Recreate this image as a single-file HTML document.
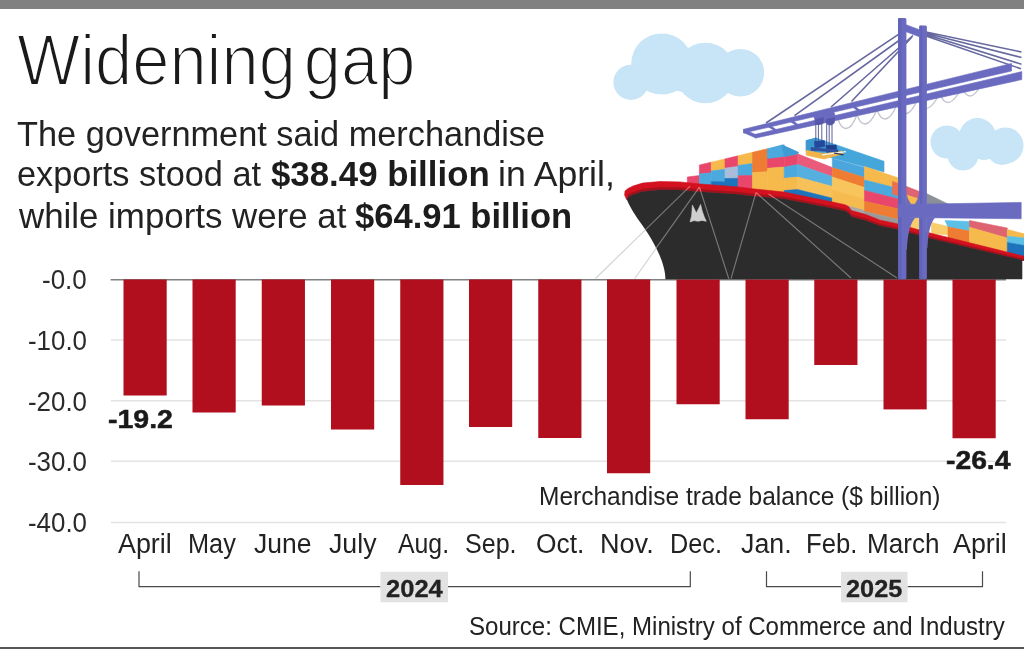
<!DOCTYPE html>
<html lang="en">
<head>
<meta charset="utf-8">
<title>Widening gap</title>
<style>
html,body{margin:0;padding:0;background:#fff;}
body{width:1024px;height:650px;position:relative;overflow:hidden;font-family:"Liberation Sans",sans-serif;color:#222;}
#art{position:absolute;left:0;top:0;width:1024px;height:650px;}
.t{position:absolute;white-space:nowrap;line-height:1;transform-origin:0 50%;margin:0;padding:0;font-weight:400;}
.bar-top{position:absolute;left:0;top:0;width:1024px;height:8.5px;background:#808080;}
.bar-bot{position:absolute;left:0;top:647px;width:1024px;height:1.7px;background:#555;}
</style>
</head>
<body>
<div class="bar-top"></div>
<svg id="art" width="1024" height="650" viewBox="0 0 1024 650">
<g id="chart">
<line x1="111" y1="340" x2="1006" y2="340" stroke="#e3e3e3" stroke-width="1.4"/>
<line x1="111" y1="400.7" x2="1006" y2="400.7" stroke="#e3e3e3" stroke-width="1.4"/>
<line x1="111" y1="461.3" x2="1006" y2="461.3" stroke="#e3e3e3" stroke-width="1.4"/>
<line x1="111" y1="522.5" x2="1006" y2="522.5" stroke="#e3e3e3" stroke-width="1.4"/>
<line x1="110.6" y1="279.7" x2="1006" y2="279.7" stroke="#808080" stroke-width="1.6"/>
<rect x="123.5" y="279.5" width="43.2" height="116" fill="#b20f1e"/>
<rect x="192.5" y="279.5" width="43.2" height="133" fill="#b20f1e"/>
<rect x="261.75" y="279.5" width="43.2" height="126" fill="#b20f1e"/>
<rect x="331" y="279.5" width="43.2" height="150" fill="#b20f1e"/>
<rect x="400.25" y="279.5" width="43.2" height="205.5" fill="#b20f1e"/>
<rect x="469" y="279.5" width="43.2" height="147.5" fill="#b20f1e"/>
<rect x="538.25" y="279.5" width="43.2" height="158.5" fill="#b20f1e"/>
<rect x="607" y="279.5" width="43.2" height="193.75" fill="#b20f1e"/>
<rect x="676.5" y="279.5" width="43.2" height="124.75" fill="#b20f1e"/>
<rect x="745.5" y="279.5" width="43.2" height="139.75" fill="#b20f1e"/>
<rect x="814.25" y="279.5" width="43.2" height="85.5" fill="#b20f1e"/>
<rect x="883.5" y="279.5" width="43.2" height="129.9" fill="#b20f1e"/>
<rect x="952.5" y="279.5" width="43.2" height="158.75" fill="#b20f1e"/>
<path d="M139 571.3V586.7H380.5M448 586.7H690.3V571.3M766.5 571.3V586.7H841M907.5 586.7H982.5V571.3" fill="none" stroke="#4a4a4a" stroke-width="1.2"/>
<rect x="380.5" y="571.8" width="67.5" height="30.5" fill="#e2e2e2"/>
<rect x="841" y="571.8" width="66.5" height="30.5" fill="#e2e2e2"/>
</g>
<g id="illustration">
<g fill="#c7e5f7">
<circle cx="631" cy="82.3" r="17.6"/>
<circle cx="661.8" cy="64" r="30.6"/>
<circle cx="705.4" cy="73" r="30.2"/>
<circle cx="740.4" cy="72.7" r="23.8"/>
<circle cx="684" cy="70" r="22"/>
<circle cx="947" cy="142" r="16.5"/>
<circle cx="977.5" cy="136.5" r="18.5"/>
<circle cx="1005.5" cy="145.5" r="18"/>
<circle cx="963" cy="155" r="15.5"/>
<circle cx="1002" cy="150" r="15"/>
<circle cx="984" cy="146" r="14"/>
</g>
<polygon points="687.3,177 699.6,175.5 699.6,184.5 687.3,183.5" fill="#e8476b" stroke="#e8476b" stroke-width=".6" stroke-linejoin="round"/>
<polygon points="699.4,165 711.25,162.17 711.25,172.81 699.4,173.95" fill="#e8476b" stroke="#e8476b" stroke-width=".6" stroke-linejoin="round"/>
<polygon points="699.4,173.95 711.25,172.81 711.25,185.82 699.4,184.9" fill="#4ba9dd" stroke="#4ba9dd" stroke-width=".6" stroke-linejoin="round"/>
<polygon points="711.25,162.17 725,158.89 725,169.25 711.25,170.92" fill="#f6b94b" stroke="#f6b94b" stroke-width=".6" stroke-linejoin="round"/>
<polygon points="711.25,170.92 725,169.25 725,181.85 711.25,181.56" fill="#4ba9dd" stroke="#4ba9dd" stroke-width=".6" stroke-linejoin="round"/>
<polygon points="711.25,181.56 725,181.85 725,186.89 711.25,185.82" fill="#1d74bd" stroke="#1d74bd" stroke-width=".6" stroke-linejoin="round"/>
<polygon points="725,158.89 738.1,155.77 738.1,166.38 725,168.13" fill="#e8476b" stroke="#e8476b" stroke-width=".6" stroke-linejoin="round"/>
<polygon points="725,168.13 738.1,166.38 738.1,178.27 725,178.49" fill="#a9bddb" stroke="#a9bddb" stroke-width=".6" stroke-linejoin="round"/>
<polygon points="725,178.49 738.1,178.27 738.1,187.91 725,186.89" fill="#1d74bd" stroke="#1d74bd" stroke-width=".6" stroke-linejoin="round"/>
<polygon points="738.1,155.77 752.5,152.34 752.5,163.56 738.1,165.41" fill="#f6b94b" stroke="#f6b94b" stroke-width=".6" stroke-linejoin="round"/>
<polygon points="738.1,165.41 752.5,163.56 752.5,175.53 738.1,175.7" fill="#4ba9dd" stroke="#4ba9dd" stroke-width=".6" stroke-linejoin="round"/>
<polygon points="738.1,175.7 752.5,175.53 752.5,189.75 738.1,187.91" fill="#e8476b" stroke="#e8476b" stroke-width=".6" stroke-linejoin="round"/>
<polygon points="752.5,152.34 767.5,148.76 767.5,171.74 752.5,172.54" fill="#ee7d33" stroke="#ee7d33" stroke-width=".6" stroke-linejoin="round"/>
<polygon points="752.5,172.54 767.5,171.74 767.5,191.31 752.5,189.75" fill="#f6b94b" stroke="#f6b94b" stroke-width=".6" stroke-linejoin="round"/>
<polygon points="767.5,148.76 784.2,144.78 784.2,154.92 767.5,157.69" fill="#4ba9dd" stroke="#4ba9dd" stroke-width=".6" stroke-linejoin="round"/>
<polygon points="767.5,157.69 784.2,154.92 784.2,167 767.5,168.33" fill="#e8476b" stroke="#e8476b" stroke-width=".6" stroke-linejoin="round"/>
<polygon points="767.5,168.33 784.2,167 784.2,193.09 767.5,191.31" fill="#f6b94b" stroke="#f6b94b" stroke-width=".6" stroke-linejoin="round"/>
<polygon points="784.2,156.2 797.5,153.75 797.5,164.6 784.2,167.2" fill="#e8476b" stroke="#e8476b" stroke-width=".6" stroke-linejoin="round"/>
<polygon points="784.2,167.2 797.5,164.6 797.5,177 784.2,178.3" fill="#4ba9dd" stroke="#4ba9dd" stroke-width=".6" stroke-linejoin="round"/>
<polygon points="784.2,178.3 797.5,177 797.5,189.6 784.2,190.5" fill="#f6b94b" stroke="#f6b94b" stroke-width=".6" stroke-linejoin="round"/>
<polygon points="784.2,190.5 797.5,189.6 797.5,196 784.2,194" fill="#1d74bd" stroke="#1d74bd" stroke-width=".6" stroke-linejoin="round"/>
<polygon points="767.5,149.4 782,145 798.5,152.4 797.5,153.9 784.2,156.4 767.5,158.4" fill="#4ba9dd" stroke="#4ba9dd" stroke-width=".6" stroke-linejoin="round"/>
<polygon points="782,145 798.5,152.4 797.5,153.9 784.2,156.4" fill="#3f9bd4" stroke="#3f9bd4" stroke-width=".6" stroke-linejoin="round"/>
<polygon points="797.5,153.75 832.3,167.5 832.3,176.6 797.5,164.5" fill="#ea5a7a" stroke="#ea5a7a" stroke-width=".6" stroke-linejoin="round"/>
<polygon points="797.5,164.5 832.3,176.6 832.3,186.4 797.5,177" fill="#55b0e0" stroke="#55b0e0" stroke-width=".6" stroke-linejoin="round"/>
<polygon points="797.5,177 832.3,186.4 832.3,198.2 797.5,189.5" fill="#f7c15a" stroke="#f7c15a" stroke-width=".6" stroke-linejoin="round"/>
<polygon points="797.5,189.5 832.3,198.2 832.3,203.5 797.5,196" fill="#1d74bd" stroke="#1d74bd" stroke-width=".6" stroke-linejoin="round"/>
<polygon points="806.2,140.6 816.2,138 884,161.3 884,172 832,158 816,153 806.2,151" fill="#45a6da" stroke="#45a6da" stroke-width=".6" stroke-linejoin="round"/>
<polygon points="806.2,140.6 816.2,138 816.2,153 806.2,151" fill="#3b97cf" stroke="#3b97cf" stroke-width=".6" stroke-linejoin="round"/>
<polygon points="806.2,150.6 818,153.6 818,157.5 806.2,154.5" fill="#f6b94b" stroke="#f6b94b" stroke-width=".6" stroke-linejoin="round"/>
<polygon points="832.3,158.5 864.5,167.6 864.5,177.6 832.3,167.5" fill="#4aa6dc" stroke="#4aa6dc" stroke-width=".6" stroke-linejoin="round"/>
<polygon points="832.3,167.5 864.5,177.6 864.5,187.6 832.3,177" fill="#ee7d33" stroke="#ee7d33" stroke-width=".6" stroke-linejoin="round"/>
<polygon points="832.3,177 864.5,187.6 864.5,199 832.3,190" fill="#f8c45c" stroke="#f8c45c" stroke-width=".6" stroke-linejoin="round"/>
<polygon points="832.3,190 864.5,199 864.5,211 832.3,203" fill="#f6bb4e" stroke="#f6bb4e" stroke-width=".6" stroke-linejoin="round"/>
<polygon points="846,205.5 864.5,210.5 864.5,215 850,211" fill="#a8a8a8" stroke="#a8a8a8" stroke-width=".6" stroke-linejoin="round"/>
<polygon points="864.5,166.5 898.5,178 898.5,188.5 864.5,180" fill="#f6b94b" stroke="#f6b94b" stroke-width=".6" stroke-linejoin="round"/>
<polygon points="864.5,180 898.5,188.5 898.5,199 864.5,190.5" fill="#4ba9dd" stroke="#4ba9dd" stroke-width=".6" stroke-linejoin="round"/>
<polygon points="864.5,190.5 898.5,199 898.5,209 864.5,201.3" fill="#e8476b" stroke="#e8476b" stroke-width=".6" stroke-linejoin="round"/>
<polygon points="864.5,201.3 898.5,209 898.5,219.5 864.5,211.5" fill="#ee7d33" stroke="#ee7d33" stroke-width=".6" stroke-linejoin="round"/>
<polygon points="864.5,211.5 898.5,219.5 898.5,225 864.5,215" fill="#9a9a9a" stroke="#9a9a9a" stroke-width=".6" stroke-linejoin="round"/>
<polygon points="892.5,181.5 898.5,183.5 898.5,196 892.5,194" fill="#ea6f52" stroke="#ea6f52" stroke-width=".6" stroke-linejoin="round"/>
<polygon points="906,186.3 919.5,191.5 919.5,199 906,195" fill="#dd6470" stroke="#dd6470" stroke-width=".6" stroke-linejoin="round"/>
<polygon points="906,195 919.5,199 919.5,208 906,206" fill="#f6b94b" stroke="#f6b94b" stroke-width=".6" stroke-linejoin="round"/>
<polygon points="906,217 919.5,218 919.5,231 906,228.5" fill="#f8cd6c" stroke="#f8cd6c" stroke-width=".6" stroke-linejoin="round"/>
<polygon points="926.5,193.5 948,204 926.5,205" fill="#8b8f98" stroke="#8b8f98" stroke-width=".6" stroke-linejoin="round"/>
<polygon points="931.5,222.5 948,226.5 948,235 931.5,233.5" fill="#f8cd6c" stroke="#f8cd6c" stroke-width=".6" stroke-linejoin="round"/>
<polygon points="945,220.5 969.5,221.5 969.5,231 948,227" fill="#5cc0e6" stroke="#5cc0e6" stroke-width=".6" stroke-linejoin="round"/>
<polygon points="948,227 969.5,231 969.5,243 948,238" fill="#ee7d33" stroke="#ee7d33" stroke-width=".6" stroke-linejoin="round"/>
<polygon points="969.5,220.5 1007.3,228 1007.3,238 969.5,227.3" fill="#dd6470" stroke="#dd6470" stroke-width=".6" stroke-linejoin="round"/>
<polygon points="969.5,227.3 1007.3,238 1007.3,252 969.5,243" fill="#f6b94b" stroke="#f6b94b" stroke-width=".6" stroke-linejoin="round"/>
<polygon points="1007.3,229.4 1024,233.8 1024,238 1007.3,236.2" fill="#f6b94b" stroke="#f6b94b" stroke-width=".6" stroke-linejoin="round"/>
<polygon points="1007.3,236.2 1024,238 1024,245.5 1007.3,242.5" fill="#5cc0e6" stroke="#5cc0e6" stroke-width=".6" stroke-linejoin="round"/>
<polygon points="1007.3,242.5 1024,245.5 1024,257 1007.3,253" fill="#1d74bd" stroke="#1d74bd" stroke-width=".6" stroke-linejoin="round"/>
<polygon points="625,191 628,188.5 633,186 642.5,183.1 660,181.5 680,181.9 697.5,183.75 738,186.9 752.5,188.75 783.75,192 808,197 832.5,202 845,204.8 848.5,206.6 851.5,210.6 865,214.3 880,220 898,224 930,233 1024,256.25 1024,260.45 930,238.24 898,229.59 880,225.79 865,220.25 851.5,216.7 848.5,212.74 845,210.97 832.5,208.31 808,203.58 783.75,198.85 752.5,195.94 738,194.25 697.5,191.55 680,189.89 660,189.71 642.5,191.51 633,194.51 628,197.07 626.5,199.5 624.6,195" fill="#d3111f" stroke="#d3111f" stroke-width=".6" stroke-linejoin="round"/>
<polygon points="628,194.67 633,192.13 642.5,189.15 660,187.41 680,187.66 697.5,189.37 738,192.19 752.5,193.93 783.75,196.93 808,201.74 832.5,206.54 845,209.25 848.5,211.02 851.5,214.99 865,218.59 880,224.17 898,228.02 930,236.77 1024,259.27 1024,260.45 930,238.24 898,229.59 880,225.79 865,220.25 851.5,216.7 848.5,212.74 845,210.97 832.5,208.31 808,203.58 783.75,198.85 752.5,195.94 738,194.25 697.5,191.55 680,189.89 660,189.71 642.5,191.51 633,194.51 628,197.07" fill="#a3121c" stroke="#a3121c" stroke-width=".6" stroke-linejoin="round"/>
<path d="M626.6 199 L628 197.07 L633 194.51 L642.5 191.51 L660 189.71 L680 189.89 L697.5 191.55 L738 194.25 L752.5 195.94 L783.75 198.85 L808 203.58 L832.5 208.31 L845 210.97 L848.5 212.74 L851.5 216.7 L865 220.25 L880 225.79 L898 229.59 L930 238.24 L1024 260.45 L1022.3 259.5 L1022.3 279.3 L665.4 279.3 C665.6 262 652 238 640 222 C633 212 629 205 626.6 199 Z" fill="#2c2c2c"/>
<path d="M690.0 186.3L685.7 190.4M699.4 187.0L696.2 191.6M699.4 187.0L700.9 191.8M756.0 192.5L754.9 196.4M756.0 192.5L760.8 196.8M768.5 194.0L774.9 198.2" fill="none" stroke="#e58a8f" stroke-width="1.3" opacity=".7"/>
<path d="M685.7 190.4L645.3 229.9M696.2 191.6L656.1 248.2M700.9 191.8L728.8 278.7M754.9 196.4L731.0 278.7M760.8 196.8L851.0 278.0M774.9 198.2L897.0 278.0" fill="none" stroke="#787878" stroke-width="1.15"/>
<path d="M645.3 229.9L595.5 278.5M656.1 248.2L634.6 278.7" fill="none" stroke="#d2d2d2" stroke-width="1.1"/>
<polygon points="690,221.9 691.6,216 692.4,205 694.6,209.5 696.3,213 698.4,209 700.6,204.4 702.2,211 704.3,217 706.3,221.3 702,220.4 698,221.3 694,220.6" fill="#cfcfcf" stroke="#cfcfcf" stroke-width=".6" stroke-linejoin="round"/>
<g stroke="#66689f" stroke-width="1.6" fill="none">
<path d="M898.5 34.3L766 123M899 40.5L794.5 115.6M913 35.5L831 107M912 37L851.5 101.5"/>
<path d="M926 32L1021.5 52M926 33.2L1021.5 57.5M926 34.6L1021.5 64.2M926 36L1021 68.8"/>
</g>
<path d="M838 119 q3 9.5 8 9.5 q6 0 11 -14 q3 9.5 8 9.5 q6 0 12 -14.5 q3 9.5 8 9.5 q6 0 12 -14.5 q3 9.5 8 9.5 q6 0 13 -15 q3 9.5 8 9.5 q6 0 14 -15.5 q3 9.5 8 9.5 q6 0 14 -15.5 q3 9 8 9 q6 0 12 -14" fill="none" stroke="#c3c3cf" stroke-width="1.3"/>
<polygon points="743.5,129.3 1011.5,63.4 1011.5,71 743.5,133.1" fill="#6a6bc0" stroke="#6a6bc0" stroke-width=".6" stroke-linejoin="round"/>
<polygon points="755.5,134.3 1021.8,71.6 1021.8,79.6 755.5,138.1" fill="#6a6bc0" stroke="#6a6bc0" stroke-width=".6" stroke-linejoin="round"/>
<polygon points="743.8,129.3 756,134.7 756,138.1 743.8,132.7" fill="#6a6bc0" stroke="#6a6bc0" stroke-width=".6" stroke-linejoin="round"/>
<line x1="768" y1="125.349" x2="777" y2="131.307" stroke="#6a6bc0" stroke-width="2.5"/>
<line x1="790" y1="120.096" x2="799" y2="126.299" stroke="#6a6bc0" stroke-width="2.5"/>
<line x1="852" y1="105.29" x2="861" y2="112.188" stroke="#6a6bc0" stroke-width="2.5"/>
<polygon points="813,114.8 833,110 836,117.6 816,122.4" fill="#6a6bc0" stroke="#6a6bc0" stroke-width=".6" stroke-linejoin="round"/>
<polygon points="815.2,119.5 823.4,117.6 823.4,122.6 820.5,124.6 817,124.4 815.2,122.6" fill="#5657ab" stroke="#5657ab" stroke-width=".6" stroke-linejoin="round"/>
<polygon points="826,119.6 834.4,117.6 834.4,122.8 831.5,125 828,124.8 826,123" fill="#5657ab" stroke="#5657ab" stroke-width=".6" stroke-linejoin="round"/>
<path d="M815.8 123V143M818.4 123V143M821.8 123V144M826.7 124V147M829.2 124V147M832 124V147" stroke="#4a4f90" stroke-width="0.9" fill="none"/>
<polygon points="806.4,150.6 823,153.4 842,151 843,154 824,159 806.4,155.2" fill="#f2b449" stroke="#f2b449" stroke-width=".6" stroke-linejoin="round"/>
<polygon points="814.4,141.6 824.4,140.6 825,146.6 815,148" fill="#23479a" stroke="#23479a" stroke-width=".6" stroke-linejoin="round"/>
<polygon points="826,145.6 836.2,145 836.8,151 826.6,152.4" fill="#1e3f8e" stroke="#1e3f8e" stroke-width=".6" stroke-linejoin="round"/>
<polygon points="811,147.6 838,149.8 838,152 811,150.4" fill="#30509e" stroke="#30509e" stroke-width=".6" stroke-linejoin="round"/>
<path d="M822 154.8L846 151.6" stroke="#eef1f8" stroke-width="1.3" fill="none"/>
<path d="M834 153L843.5 154.8" stroke="#23305e" stroke-width="1.2" fill="none"/>
<rect x="898" y="18" width="8.4" height="261.3" rx="1.5" fill="#6a6bc0"/>
<rect x="898" y="18" width="3.4" height="261.3" fill="#5a5bb4" opacity=".55"/>
<rect x="919.2" y="25.5" width="7.7" height="253.8" rx="1.5" fill="#6a6bc0"/>
<rect x="919.2" y="25.5" width="3" height="253.8" fill="#5a5bb4" opacity=".55"/>
<polygon points="905.5,24.5 920,30 920,37 905.5,31.5" fill="#6a6bc0" stroke="#6a6bc0" stroke-width=".6" stroke-linejoin="round"/>
<polygon points="898,204.6 1021.2,202.4 1021.2,218.8 898,217.4" fill="#6a6bc0" stroke="#6a6bc0" stroke-width=".6" stroke-linejoin="round"/>
<path d="M906 217 L915.5 217.6 C910.5 223 907.8 232 906.8 250 L906 250Z M926.5 217.3 L935 217.8 C930.6 223 928.4 231 927.4 248 L926.5 248Z M906.2 204.6 L911.5 204.6 C908.6 201 907 197 906.3 191Z M919.4 204.5 L914.5 204.5 C917.2 201 918.6 197 919.2 191Z" fill="#6a6bc0"/>
</g>
</svg>
<div class="bar-bot"></div>
<h1 class="t" style="left:17.45px;top:24.05px;font-size:72px;color:#1a1a1a;transform:scaleX(0.9291);-webkit-text-stroke:2px #fff;word-spacing:-11.5px;">Widening gap</h1>
<div class="t" style="left:17.24px;top:116.50px;font-size:34.5px;transform:scaleX(0.9941);">The government said merchandise</div>
<div class="t" style="left:16.57px;top:157.40px;font-size:34.5px;transform:scaleX(0.9943);">exports stood at</div>
<div class="t" style="left:270.83px;top:157.40px;font-size:34.5px;font-weight:700;color:#1c1c1c;transform:scaleX(1.0093);">$38.49 billion</div>
<div class="t" style="left:497.59px;top:157.40px;font-size:34.5px;transform:scaleX(1.0328);">in April,</div>
<div class="t" style="left:18.50px;top:198.50px;font-size:34.5px;transform:scaleX(1.0103);">while imports were at</div>
<div class="t" style="left:354.83px;top:198.50px;font-size:34.5px;font-weight:700;color:#1c1c1c;transform:scaleX(1.0023);">$64.91 billion</div>
<div class="t" style="left:42.49px;top:266.22px;font-size:27.5px;color:#2a2a2a;transform:scaleX(0.9456);">-0.0</div>
<div class="t" style="left:28.24px;top:326.92px;font-size:27.5px;color:#2a2a2a;transform:scaleX(0.9414);">-10.0</div>
<div class="t" style="left:28.24px;top:387.72px;font-size:27.5px;color:#2a2a2a;transform:scaleX(0.9414);">-20.0</div>
<div class="t" style="left:28.24px;top:448.32px;font-size:27.5px;color:#2a2a2a;transform:scaleX(0.9414);">-30.0</div>
<div class="t" style="left:28.24px;top:509.02px;font-size:27.5px;color:#2a2a2a;transform:scaleX(0.9414);">-40.0</div>
<div class="t" style="left:117.50px;top:529.33px;font-size:28.2px;transform:scaleX(0.9530);">April</div>
<div class="t" style="left:188.40px;top:529.33px;font-size:28.2px;transform:scaleX(0.8980);">May</div>
<div class="t" style="left:254.12px;top:529.33px;font-size:28.2px;transform:scaleX(0.9396);">June</div>
<div class="t" style="left:329.12px;top:529.33px;font-size:28.2px;transform:scaleX(0.9476);">July</div>
<div class="t" style="left:398.00px;top:529.33px;font-size:28.2px;transform:scaleX(0.8810);">Aug.</div>
<div class="t" style="left:465.31px;top:529.33px;font-size:28.2px;transform:scaleX(0.8889);">Sep.</div>
<div class="t" style="left:536.26px;top:529.33px;font-size:28.2px;transform:scaleX(0.9336);">Oct.</div>
<div class="t" style="left:600.26px;top:529.33px;font-size:28.2px;transform:scaleX(0.9608);">Nov.</div>
<div class="t" style="left:669.91px;top:529.33px;font-size:28.2px;transform:scaleX(0.8962);">Dec.</div>
<div class="t" style="left:741.12px;top:529.33px;font-size:28.2px;transform:scaleX(0.9500);">Jan.</div>
<div class="t" style="left:806.38px;top:529.33px;font-size:28.2px;transform:scaleX(0.9097);">Feb.</div>
<div class="t" style="left:866.59px;top:529.33px;font-size:28.2px;transform:scaleX(0.9249);">March</div>
<div class="t" style="left:953.00px;top:529.33px;font-size:28.2px;transform:scaleX(0.9512);">April</div>
<div class="t" style="left:538.67px;top:484.10px;font-size:25.4px;transform:scaleX(0.9642);">Merchandise trade balance ($ billion)</div>
<div class="t" style="left:469.34px;top:613.50px;font-size:25.4px;transform:scaleX(0.9470);">Source: CMIE, Ministry of Commerce and Industry</div>
<div class="t" style="left:108.27px;top:405.82px;font-size:26.2px;font-weight:700;color:#1a1a1a;transform:scaleX(1.0886);-webkit-text-stroke:0.5px #1a1a1a;">-19.2</div>
<div class="t" style="left:945.58px;top:447.32px;font-size:26.2px;font-weight:700;color:#1a1a1a;transform:scaleX(1.0797);-webkit-text-stroke:0.5px #1a1a1a;">-26.4</div>
<div class="t" style="left:385.60px;top:576.55px;font-size:24.4px;font-weight:700;transform:scaleX(1.0472);-webkit-text-stroke:0.3px #222;">2024</div>
<div class="t" style="left:846.11px;top:576.55px;font-size:24.4px;font-weight:700;transform:scaleX(1.0377);-webkit-text-stroke:0.3px #222;">2025</div>
</body>
</html>
